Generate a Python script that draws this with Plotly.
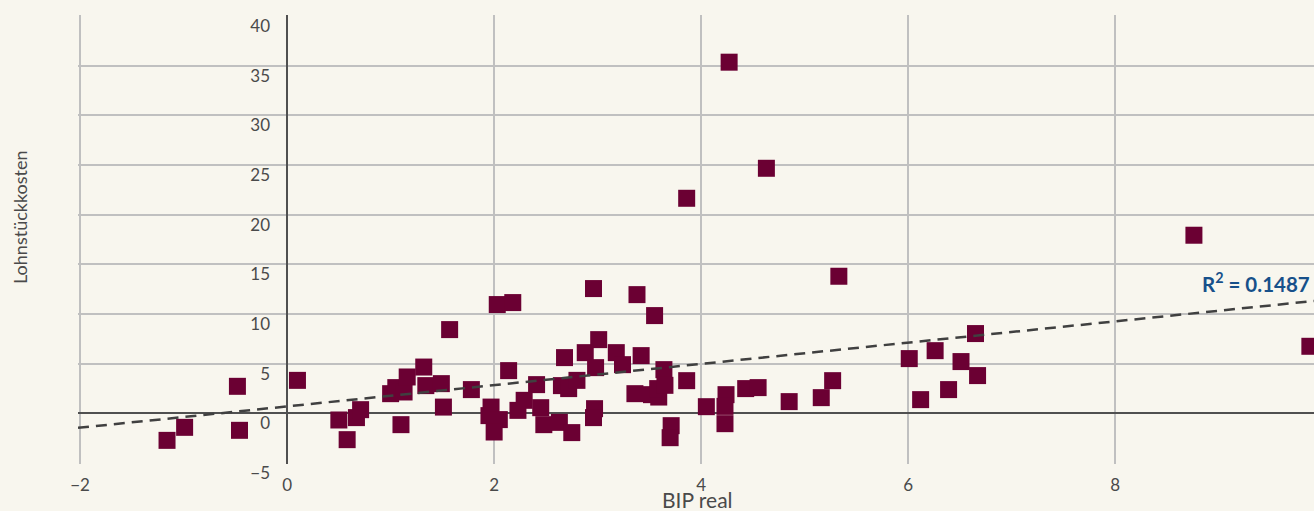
import plotly.graph_objects as go

# Data (BIP real vs Lohnstückkosten)
bip_real = [-1.16, -0.99, -0.48, -0.46, 0.10, 0.50, 0.58, 0.67, 0.71, 1.00, 1.05, 1.13, 1.16, 1.32,
            1.34, 1.49, 1.51, 1.10, 1.57, 1.78,
            2.03, 2.18, 2.96, 3.38, 3.55, 3.01, 2.68, 2.88, 3.18, 3.42, 3.24, 2.98, 2.14, 3.64,
            3.86, 2.41, 2.65, 2.72, 2.80, 2.29, 2.23, 1.97, 1.95, 2.05, 2.00, 2.45, 2.48, 2.63,
            2.75, 2.97, 2.96, 3.36, 3.52, 3.59, 3.58, 3.65, 3.71, 3.70, 4.05,
            4.24, 4.23, 4.23, 4.43, 4.55, 4.85, 5.16, 5.27, 6.01, 6.12, 6.26, 6.39, 6.51, 6.65, 6.67,
            4.27, 4.63, 3.86, 5.33, 8.76, 9.88]
lohnstueckkosten = [-2.72, -1.41, 2.72, -1.71, 3.32, -0.67, -2.65, -0.43, 0.37, 1.98, 2.59, 2.15, 3.66, 4.66,
                    2.79, 2.99, 0.63, -1.14, 8.43, 2.39,
                    10.95, 11.15, 12.56, 11.95, 9.84, 7.42, 5.61, 6.11, 6.11, 5.81, 4.90, 4.60, 4.30, 4.40,
                    3.29, 2.89, 2.79, 2.49, 3.32, 1.31, 0.30, 0.63, -0.23, -0.63, -1.88, 0.57, -1.14, -0.91,
                    -1.94, 0.47, -0.43, 1.98, 1.88, 1.64, 2.49, 2.82, -1.24, -2.45, 0.67,
                    1.88, 0.70, -1.04, 2.49, 2.59, 1.18, 1.58, 3.29, 5.51, 1.38, 6.31, 2.39, 5.21, 8.03, 3.80,
                    35.35, 24.67, 21.65, 13.80, 17.93, 6.75]

trend_slope = 1.07
trend_intercept = 0.70
r_squared_label = "R<sup>2</sup> = 0.1487"

x_range = [-2.02, 9.92]
y_range = [-5.1, 40.1]
x_ticks = [-2, 0, 2, 4, 6, 8]
y_ticks = [-5, 0, 5, 10, 15, 20, 25, 30, 35, 40]

x_title = "BIP real"
y_title = "Lohnstückkosten"

BG = "#f8f6ee"
MARKER = "#6b0033"
GRID = "#c0c0c0"
ZERO = "#505050"
TEXT = "#4a4a4a"
FONT = "Lato"

trend_x = list(x_range)
trend_y = [trend_intercept + trend_slope * v for v in trend_x]

fig = go.Figure()
fig.add_trace(go.Scatter(
    x=bip_real, y=lohnstueckkosten, mode="markers",
    marker=dict(symbol="square", size=17, color=MARKER, line=dict(width=0)),
    hoverinfo="x+y", showlegend=False,
))
fig.add_trace(go.Scatter(
    x=trend_x, y=trend_y, mode="lines",
    line=dict(color="#404040", width=2.5, dash="11px,7px"),
    hoverinfo="skip", showlegend=False,
))

W, H = 1314, 511
ml, mr, mt, mb = 78, 0, 15, 47
pw = W - ml - mr
ph = H - mt - mb

ypos = (0 - x_range[0]) / (x_range[1] - x_range[0])

fig.update_layout(
    width=W, height=H,
    margin=dict(l=ml, r=mr, t=mt, b=mb, pad=0),
    paper_bgcolor=BG, plot_bgcolor=BG,
    font=dict(family=FONT, size=17, color=TEXT),
    xaxis=dict(
        range=x_range, tickvals=x_ticks, showgrid=True, gridcolor=GRID, gridwidth=1.5,
        zeroline=True, zerolinecolor=ZERO, zerolinewidth=2,
        showline=False, ticks="", ticklabelstandoff=9,
        tickfont=dict(family=FONT, size=17, color=TEXT),
    ),
    yaxis=dict(
        range=y_range, tickvals=y_ticks, showgrid=True, gridcolor=GRID, gridwidth=1.5,
        zeroline=True, zerolinecolor=ZERO, zerolinewidth=2,
        showline=False, ticks="", anchor="free", position=ypos,
        ticklabelshift=10, ticklabelstandoff=17,
        tickfont=dict(family=FONT, size=17, color=TEXT),
    ),
    annotations=[
        dict(text=x_title, xref="paper", yref="paper", x=(697 - ml) / pw, y=-(500 - (mt + ph)) / ph,
             xanchor="center", yanchor="middle", showarrow=False,
             font=dict(family=FONT, size=21, color=TEXT)),
        dict(text=y_title, xref="paper", yref="paper", x=(20 - ml) / pw, y=(mt + ph - 217) / ph,
             xanchor="center", yanchor="middle", showarrow=False, textangle=-90,
             font=dict(family=FONT, size=18, color=TEXT)),
        dict(text="<b>" + r_squared_label + "</b>", xref="paper", yref="paper",
             x=(1312 - ml) / pw, y=(mt + ph - 282) / ph,
             xanchor="right", yanchor="middle", showarrow=False,
             font=dict(family=FONT, size=20.5, color="#17508a")),
    ],
)

fig.write_html("out.html")
